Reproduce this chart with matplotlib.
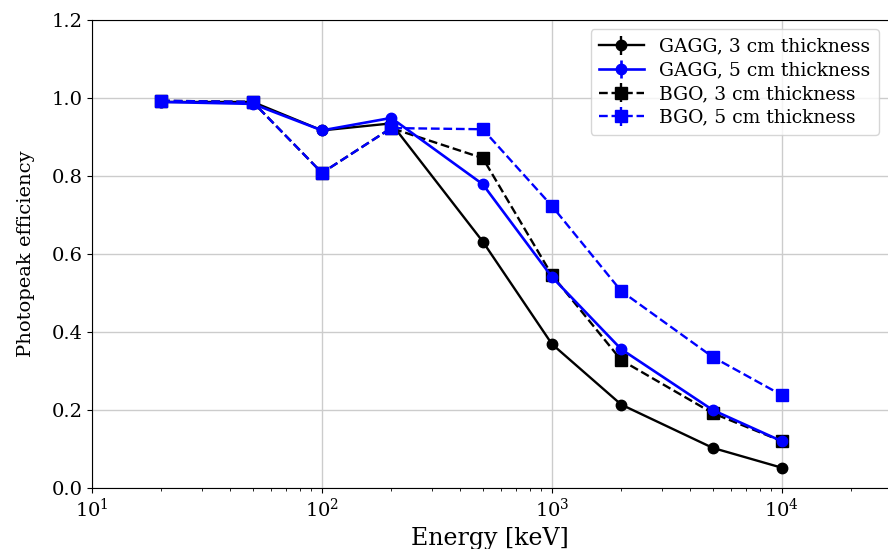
import numpy as np
import matplotlib.pyplot as plt

plt.rcParams['font.family'] = ['DejaVu Serif']
plt.rcParams['mathtext.fontset'] = 'dejavuserif'

# energies in keV
energy = [20, 50, 100, 200, 500, 1000, 2000, 5000, 10000]

# photopeak efficiency for each crystal / thickness
gagg_3cm = [0.99, 0.99, 0.917, 0.935, 0.632, 0.369, 0.214, 0.103, 0.052]
gagg_5cm = [0.99, 0.985, 0.917, 0.949, 0.779, 0.541, 0.356, 0.200, 0.120]
bgo_3cm = [0.993, 0.99, 0.808, 0.923, 0.846, 0.546, 0.328, 0.192, 0.120]
bgo_5cm = [0.993, 0.99, 0.808, 0.923, 0.920, 0.723, 0.505, 0.336, 0.238]

fig = plt.figure(figsize=(8.88, 5.49), dpi=100)
ax = fig.add_axes([0.1036, 0.111, 0.8964, 0.8525])

ax.errorbar(energy, gagg_3cm, yerr=0, color='black', ls='-', marker='o', ms=7.5,
            lw=1.7, label='GAGG, 3 cm thickness', zorder=3)
ax.errorbar(energy, gagg_5cm, yerr=0, color='blue', ls='-', marker='o', ms=7.5,
            lw=1.9, label='GAGG, 5 cm thickness', zorder=4)
ax.errorbar(energy, bgo_3cm, yerr=0, color='black', ls='--', marker='s', ms=8,
            lw=1.7, label='BGO, 3 cm thickness', zorder=3)
ax.errorbar(energy, bgo_5cm, yerr=0, color='blue', ls='--', marker='s', ms=8,
            lw=1.7, label='BGO, 5 cm thickness', zorder=5)

ax.set_xscale('log')
ax.set_xlim(10, 2.89e4)
ax.set_ylim(0, 1.2)
ax.set_yticks(np.arange(0, 1.21, 0.2))
ax.grid(True, which='major', color='#cccccc', lw=1)
ax.spines['right'].set_visible(False)
ax.tick_params(labelsize=14)

ax.set_xlabel('Energy [keV]', fontsize=17)
ax.set_ylabel('Photopeak efficiency', fontsize=14, labelpad=12)
ax.legend(loc='upper right', fontsize=13.5, borderaxespad=0.5,
          labelspacing=0.3, handlelength=2.4, borderpad=0.45)

fig.savefig('out.png', dpi=100)
